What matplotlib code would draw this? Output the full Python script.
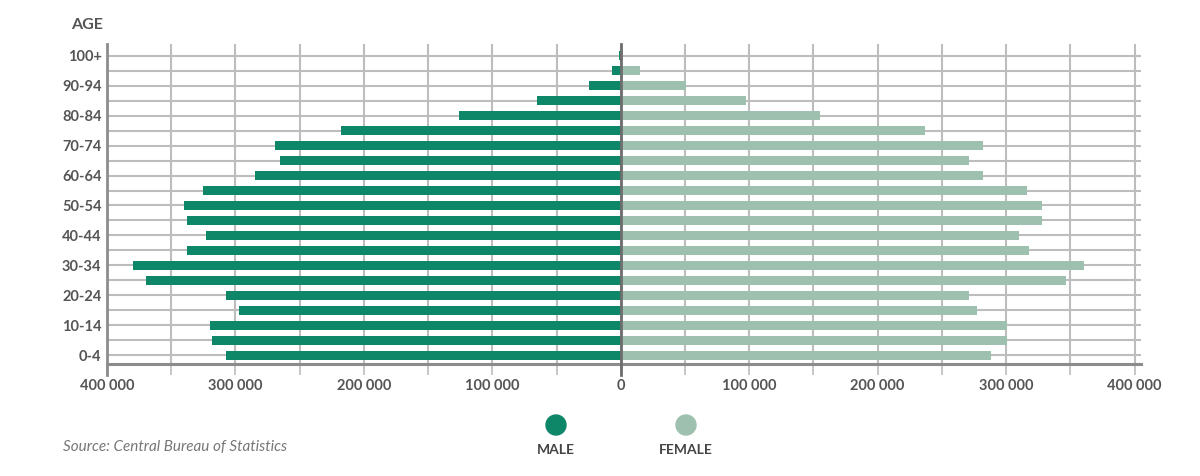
import numpy as np
import matplotlib
matplotlib.use("Agg")
from matplotlib import pyplot as plt
from matplotlib.ticker import FuncFormatter

age_groups = ['0-4', '5-9', '10-14', '15-19', '20-24', '25-29', '30-34', '35-39',
              '40-44', '45-49', '50-54', '55-59', '60-64', '65-69', '70-74', '75-79',
              '80-84', '85-89', '90-94', '95-99', '100+']
male = [307000, 318000, 320000, 297000, 307000, 370000, 380000, 338000,
        323000, 338000, 340000, 325000, 285000, 265000, 269000, 218000,
        126000, 65000, 25000, 6500, 1500]
female = [288000, 301000, 301000, 277000, 271000, 347000, 361000, 318000,
          310000, 328000, 328000, 316000, 282000, 271000, 282000, 237000,
          155000, 97600, 51000, 15000, 1500]
x_ticks = np.arange(-400000, 400001, 100000)

male_col = '#0e8769'
female_col = '#9ec0ae'
grid_col = '#bdbdbd'
text_col = '#555555'
plt.rcParams['font.family'] = ['Lato', 'DejaVu Sans']

fig = plt.figure(figsize=(12, 4.76), dpi=100)
ax = fig.add_axes([0.0892, 0.2353, 0.9508 - 0.0892, 0.9076 - 0.2353])

y = np.arange(len(age_groups))
ax.barh(y, -np.array(male), height=0.6, color=male_col, zorder=3)
ax.barh(y, female, height=0.6, color=female_col, zorder=3)

ax.set_xlim(-400000, 405000)
ax.set_ylim(-0.6, len(age_groups) - 0.2)

# grid
ax.set_xticks(np.arange(-400000, 400001, 50000), minor=True)
ax.set_xticks(x_ticks)
ax.xaxis.set_major_formatter(FuncFormatter(lambda v, p: f"{abs(int(v)):,}".replace(',', ' ')))
ax.grid(axis='x', which='both', color=grid_col, lw=1.5, zorder=1)
ax.set_yticks(y)
ax.set_yticklabels([a if i % 2 == 0 else '' for i, a in enumerate(age_groups)])
ax.grid(axis='y', color=grid_col, lw=1.5, zorder=1)

for s in ['top', 'right', 'left']:
    ax.spines[s].set_visible(False)
ax.spines['bottom'].set_color('#8c8c8c')
ax.spines['bottom'].set_linewidth(2.2)
ax.spines['bottom'].set_zorder(4)

ax.axvline(0, ymin=-0.035, ymax=1, color='#6e6e6e', lw=2, zorder=5, clip_on=False)
ax.axvline(-400000, ymin=-0.035, ymax=1, color='#8c8c8c', lw=2, zorder=5, clip_on=False)

ax.tick_params(axis='x', which='both', length=8, width=1.2, color=grid_col, pad=3,
               labelsize=10.5, labelcolor=text_col)
ax.tick_params(axis='y', length=0, pad=4, labelsize=10.5, labelcolor=text_col)
for lab in ax.get_xticklabels() + ax.get_yticklabels():
    lab.set_fontweight('bold')

fig.text(103 / 1200, 1 - 25 / 476, 'AGE', ha='right', va='center', fontsize=11.5,
         fontweight='bold', color=text_col)

# legend
for cx, col, name in [(556, male_col, 'MALE'), (686, female_col, 'FEMALE')]:
    fig.patches.append(matplotlib.patches.Ellipse((cx / 1200, 1 - 425 / 476), 20 / 1200, 20 / 476,
                                                  transform=fig.transFigure, color=col))
    fig.text(cx / 1200, 1 - 450 / 476, name, ha='center', va='center', fontsize=10,
             fontweight='bold', color='#444444')

fig.text(63 / 1200, 1 - 447 / 476, 'Source: Central Bureau of Statistics', ha='left',
         va='center', fontsize=11, style='italic', color='#777777')

fig.savefig('out.png', dpi=100)
